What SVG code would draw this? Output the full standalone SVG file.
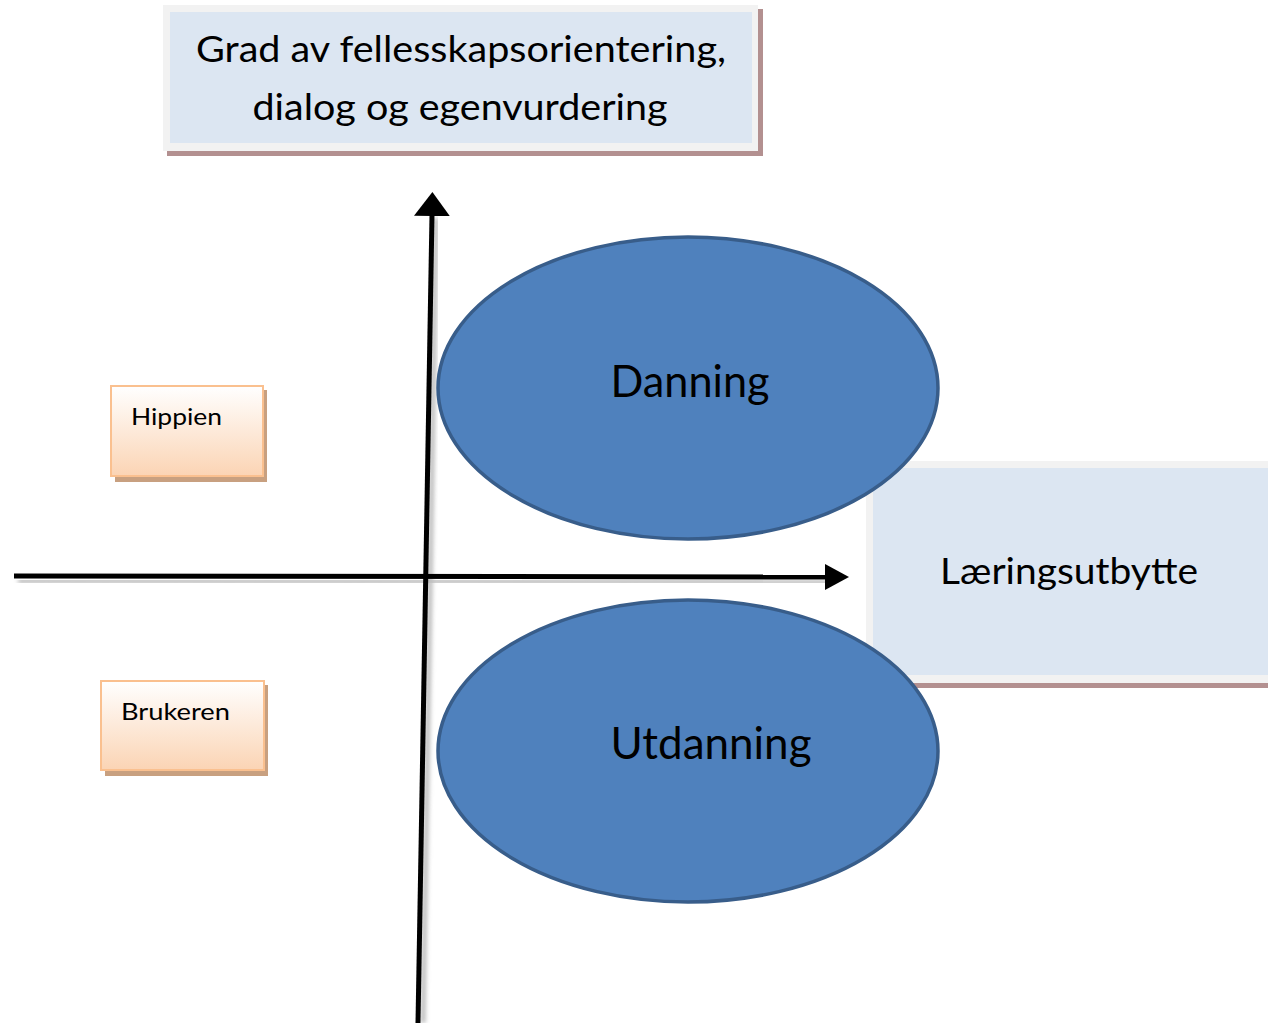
<svg xmlns="http://www.w3.org/2000/svg" width="1268" height="1023" viewBox="0 0 1268 1023">
<defs>
<linearGradient id="peach" x1="0" y1="0" x2="0" y2="1">
<stop offset="0" stop-color="#ffffff"/>
<stop offset="1" stop-color="#fbd4b4"/>
</linearGradient>
<marker id="ah" markerUnits="userSpaceOnUse" markerWidth="24" markerHeight="26" viewBox="0 0 24 26" refX="1" refY="13" orient="auto">
<path d="M0,0 L24,13 L0,26 Z" fill="#000"/>
</marker>
<marker id="av" markerUnits="userSpaceOnUse" markerWidth="24" markerHeight="36" viewBox="0 0 24 36" refX="1" refY="18" orient="auto">
<path d="M0,0 L24,18 L0,36 Z" fill="#000"/>
</marker>
<filter id="sh" x="-10%" y="-10%" width="120%" height="120%">
<feGaussianBlur stdDeviation="2"/>
</filter>
</defs>
<style>
.t{font-family:Lato,"Open Sans","Liberation Sans",sans-serif;fill:#000}
.blue{fill:#4f81bd;stroke:#385d8a;stroke-width:3.5}
.frame{fill:#f2f2f2}
.inner{fill:#dce6f2}
.rshadow{fill:#b39090}
.pbox{fill:url(#peach);stroke:#fac08f;stroke-width:2}
.pshadow{fill:#c8a080}
.axis{stroke:#000;stroke-width:5;fill:none}
.axsh{stroke:#bbb;stroke-width:5;fill:none;filter:url(#sh)}
</style>
<rect width="1268" height="1023" fill="#fff"/>

<g id="node-top">
<rect class="rshadow" x="167" y="9" width="596" height="147"/>
<rect class="frame" x="163" y="5" width="595" height="146"/>
<rect class="inner" x="170" y="12" width="582" height="131"/>
<text class="t" x="461" y="62" font-size="37" text-anchor="middle" textLength="530" lengthAdjust="spacingAndGlyphs">Grad av fellesskapsorientering,</text>
<text class="t" x="460" y="120" font-size="37" text-anchor="middle" textLength="415" lengthAdjust="spacingAndGlyphs">dialog og egenvurdering</text>
</g>

<g id="node-laering">
<rect class="rshadow" x="870" y="465" width="398" height="223"/>
<rect class="frame" x="866" y="461" width="402" height="222"/>
<rect class="inner" x="873" y="468" width="395" height="207"/>
<text class="t" x="1069" y="584" font-size="37" text-anchor="middle" textLength="258" lengthAdjust="spacingAndGlyphs">Læringsutbytte</text>
</g>

<g id="connectors">
<line class="axsh" x1="18" y1="581" x2="830" y2="582"/>
<line class="axsh" x1="423" y1="1023" x2="436" y2="218"/>
<line class="axis" x1="14" y1="576" x2="826" y2="577" marker-end="url(#ah)"/>
<line class="axis" x1="418" y1="1023" x2="432" y2="215" marker-end="url(#av)"/>
</g>

<g id="node-danning">
<ellipse class="blue" cx="688" cy="388" rx="250" ry="151"/>
<text class="t" x="690" y="397" font-size="44" text-anchor="middle" textLength="159" lengthAdjust="spacingAndGlyphs">Danning</text>
</g>

<g id="node-utdanning">
<ellipse class="blue" cx="688" cy="751" rx="250" ry="151"/>
<text class="t" x="711" y="759" font-size="44" text-anchor="middle" textLength="201" lengthAdjust="spacingAndGlyphs">Utdanning</text>
</g>

<g id="node-hippien">
<rect class="pshadow" x="115" y="390" width="152" height="92"/>
<rect class="pbox" x="111" y="386" width="152" height="90"/>
<text class="t" x="131" y="425" font-size="24" textLength="91" lengthAdjust="spacingAndGlyphs">Hippien</text>
</g>

<g id="node-brukeren">
<rect class="pshadow" x="105" y="685" width="163" height="91"/>
<rect class="pbox" x="101" y="681" width="163" height="89"/>
<text class="t" x="121" y="720" font-size="24" textLength="109" lengthAdjust="spacingAndGlyphs">Brukeren</text>
</g>
</svg>
